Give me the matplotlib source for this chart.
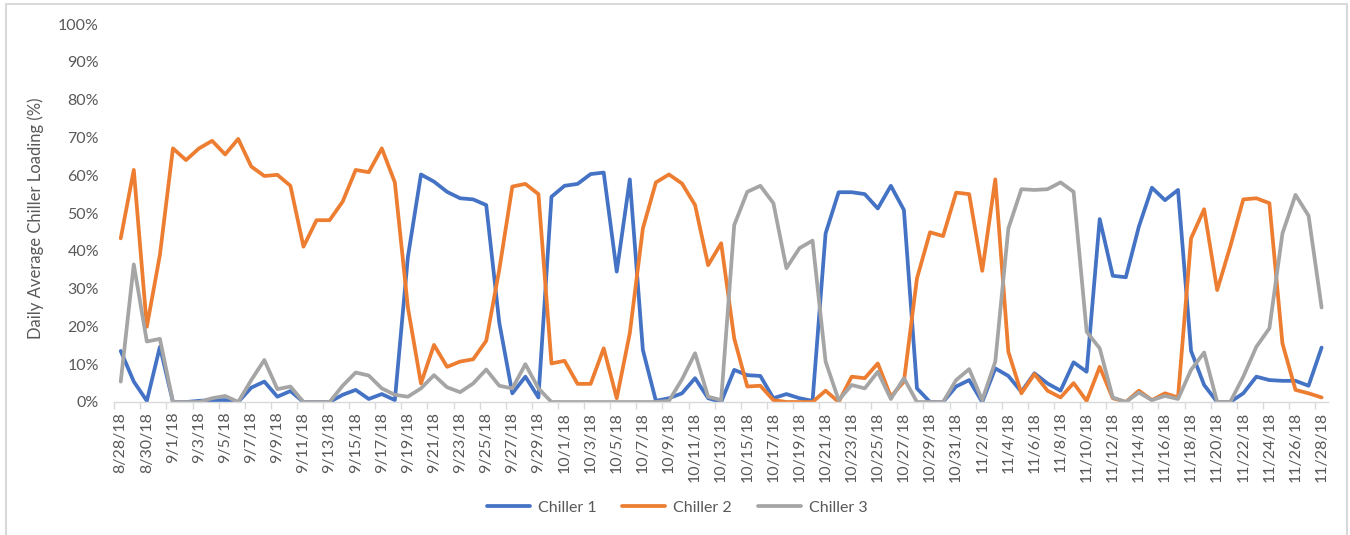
import matplotlib
matplotlib.use("Agg")
import matplotlib.pyplot as plt
from matplotlib.patches import Rectangle
from matplotlib.ticker import FuncFormatter, FixedLocator
import pandas as pd

plt.rcParams['font.family'] = ['Lato', 'DejaVu Sans']

# Daily dates, 8/28/18 through 11/28/18
dates = pd.date_range("2018-08-28", "2018-11-28", freq="D")
date_labels = [f"{d.month}/{d.day}/{d.strftime('%y')}" for d in dates]

# Daily average loading (%) per chiller
chiller1 = [13.5, 5.4, 0.3, 14.6, 0, 0, 0.3, 0.5, 0.5, 0,
            3.8, 5.4, 1.4, 2.9, 0, 0, 0, 1.9, 3.2, 0.8,
            2.1, 0.5, 38.4, 60.2, 58.3, 55.6, 53.9, 53.6, 52.1, 21.0,
            2.3, 6.7, 1.2, 54.3, 57.2, 57.7, 60.3, 60.7, 34.5, 58.9,
            13.8, 0.3, 1.0, 2.3, 6.3, 1.0, 0, 8.5, 7.1, 6.9,
            1.0, 2.1, 1.0, 0.3, 44.6, 55.5, 55.5, 55.0, 51.2, 57.2,
            50.8, 3.6, 0, 0, 4.1, 5.8, 0, 8.9, 6.9, 2.7,
            7.6, 4.9, 3.0, 10.5, 8.0, 48.4, 33.4, 33.0, 46.4, 56.7,
            53.4, 56.1, 13.5, 4.5, 0, 0, 2.3, 6.7, 5.8, 5.6,
            5.6, 4.3, 14.4]

chiller2 = [43.3, 61.4, 19.9, 38.9, 67.1, 64.0, 67.1, 69.1, 65.5, 69.6,
            62.3, 59.8, 60.1, 57.2, 41.1, 48.1, 48.1, 53.0, 61.4, 60.8,
            67.1, 58.1, 25.0, 4.9, 15.1, 9.3, 10.7, 11.3, 16.2, 35.0,
            57.0, 57.7, 55.0, 10.2, 10.9, 4.8, 4.8, 14.2, 1.0, 18.2,
            45.9, 58.1, 60.2, 57.8, 52.1, 36.2, 42.0, 16.8, 4.1, 4.3,
            0.5, 0, 0, 0, 3.0, 0, 6.7, 6.3, 10.2, 1.4,
            5.4, 32.7, 44.9, 43.9, 55.4, 55.0, 34.7, 58.9, 13.3, 2.3,
            7.4, 3.0, 1.2, 5.0, 0.3, 9.3, 1.0, 0, 3.0, 0.5,
            2.3, 1.2, 43.3, 51.0, 29.6, 41.1, 53.6, 53.9, 52.6, 15.5,
            3.2, 2.3, 1.2]

chiller3 = [5.4, 36.4, 16.0, 16.7, 0, 0, 0, 1.0, 1.6, 0,
            5.8, 11.1, 3.4, 4.1, 0, 0, 0, 4.3, 7.8, 7.0,
            3.6, 1.9, 1.4, 3.6, 7.1, 3.9, 2.6, 4.9, 8.6, 4.3,
            3.6, 10.0, 3.6, 0, 0, 0, 0, 0, 0, 0,
            0, 0, 0.3, 6.0, 12.9, 1.4, 0.5, 46.8, 55.6, 57.2,
            52.6, 35.4, 40.7, 42.7, 10.7, 0.5, 4.5, 3.6, 8.0, 0.8,
            6.3, 0, 0, 0, 5.8, 8.7, 0.5, 10.7, 45.9, 56.3,
            56.1, 56.3, 58.1, 55.6, 18.6, 14.2, 1.2, 0, 2.5, 0.5,
            1.6, 0.8, 8.5, 13.1, 0, 0, 6.7, 14.6, 19.5, 44.6,
            54.8, 49.3, 25.0]

series_names = ["Chiller 1", "Chiller 2", "Chiller 3"]
series_colors = ["#4472C4", "#ED7D31", "#A5A5A5"]

TEXT = "#595959"
AXIS = "#D9D9D9"
FS = 11.5

fig = plt.figure(figsize=(13.5, 5.35), dpi=100)
ax = fig.add_axes([0.0846, 0.2486, 0.8992, 0.7065])

x = list(range(len(dates)))
for vals, name, color in zip([chiller1, chiller2, chiller3], series_names, series_colors):
    ax.plot(x, vals, color=color, lw=2.7, label=name,
            solid_joinstyle="round", solid_capstyle="round")

ax.set_xlim(-0.5, len(dates) - 0.5)
ax.set_ylim(0, 100)

# y axis: percent labels, no spine
ax.set_yticks(range(0, 101, 10))
ax.yaxis.set_major_formatter(FuncFormatter(lambda v, p: f"{int(v)}%"))
ax.tick_params(axis="y", length=0, pad=11, labelsize=FS, labelcolor=TEXT)

# x axis: every other date, tick marks between categories
ax.xaxis.set_major_locator(FixedLocator(x[::2]))
ax.set_xticklabels(date_labels[::2], rotation=90)
ax.tick_params(axis="x", which="major", length=0, pad=7, labelsize=FS, labelcolor=TEXT)
ax.xaxis.set_minor_locator(FixedLocator([i - 0.5 for i in x[::2]]))
ax.tick_params(axis="x", which="minor", length=5, width=1, color=AXIS)

for side in ["left", "right", "top"]:
    ax.spines[side].set_visible(False)
ax.spines["bottom"].set_color(AXIS)
ax.spines["bottom"].set_linewidth(1)

ax.set_ylabel("Daily Average Chiller Loading (%)", fontsize=FS + 0.5, color=TEXT)
ax.yaxis.set_label_coords(-0.058, 0.485)

fig.legend(loc="center", bbox_to_anchor=(0.5015, 0.0505), ncol=3, frameon=False,
           fontsize=FS, handlelength=2.7, handletextpad=0.5, columnspacing=1.6,
           labelcolor=TEXT)

# chart-area border
fig.patches.append(Rectangle((0.0044, -0.02), 0.9934, 1.0125, transform=fig.transFigure,
                             fill=False, edgecolor=AXIS, linewidth=1.5))

fig.savefig("out.png", dpi=100)
